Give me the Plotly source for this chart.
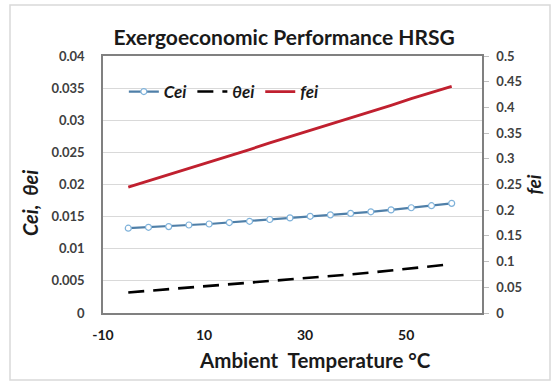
import plotly.graph_objects as go

# Data
ambient_temp = [-5, -1, 3, 7, 11, 15, 19, 23, 27, 31, 35, 39, 43, 47, 51, 55, 59]
cei = [0.0132, 0.01334, 0.01345, 0.0137, 0.01385, 0.01408, 0.01427, 0.01455, 0.0148,
       0.01505, 0.01528, 0.0155, 0.01575, 0.01605, 0.01638, 0.0167, 0.01707]
theta_ei = [0.0032, 0.00345, 0.0037, 0.0039, 0.0042, 0.00445, 0.0047, 0.00495, 0.0052,
            0.0055, 0.00575, 0.006, 0.0063, 0.0066, 0.0069, 0.0073, 0.0076]
fei = [0.245, 0.257, 0.269, 0.281, 0.293, 0.306, 0.318, 0.331, 0.343,
       0.355, 0.367, 0.380, 0.392, 0.404, 0.417, 0.429, 0.441]

left_ticks = [0, 0.005, 0.01, 0.015, 0.02, 0.025, 0.03, 0.035, 0.04]
left_tick_text = ["0", "0.005", "0.01", "0.015", "0.02", "0.025", "0.03", "0.035", "0.04"]
right_ticks = [0, 0.05, 0.1, 0.15, 0.2, 0.25, 0.3, 0.35, 0.4, 0.45, 0.5]
right_tick_text = ["0", "0.05", "0.1", "0.15", "0.2", "0.25", "0.3", "0.35", "0.4", "0.45", "0.5"]
x_ticks = [-10, 10, 30, 50]
x_tick_text = ["-10", "10", "30", "50"]

FONT = "Lato"
TICKFONT = dict(size=13, color="#404040", family=FONT, weight="bold")

fig = go.Figure()
fig.add_trace(go.Scatter(
    x=ambient_temp, y=cei, name="<b><i>Cei</i></b>", mode="lines+markers",
    line=dict(color="#4F7FA8", width=2.2),
    marker=dict(symbol="circle", size=6, color="white",
                line=dict(color="#7FB2DA", width=1.2)),
))
fig.add_trace(go.Scatter(
    x=ambient_temp, y=theta_ei, name="<b><i>θei</i></b>", mode="lines",
    line=dict(color="black", width=2.6, dash="16px,9px"),
))
fig.add_trace(go.Scatter(
    x=ambient_temp, y=fei, name="<b><i>fei</i></b>", mode="lines", yaxis="y2",
    line=dict(color="#C0202F", width=2.8),
))

fig.update_layout(
    width=557, height=383,
    margin=dict(l=103, r=75, t=56, b=70),
    paper_bgcolor="white", plot_bgcolor="white",
    font=dict(family=FONT, color="#333333"),
    title=dict(text="<b>Exergoeconomic Performance HRSG</b>",
               x=0.51, xanchor="center", y=1 - 38 / 383, yanchor="middle",
               font=dict(size=21, color="#1a1a1a", family=FONT)),
    xaxis=dict(range=[-10, 65], tickvals=x_ticks, ticktext=x_tick_text, showgrid=False,
               showline=True, linecolor="#808080", linewidth=1.5, mirror=True,
               ticks="", zeroline=False, ticklabelstandoff=8,
               tickfont=dict(TICKFONT, size=14, color="#1a1a1a")),
    yaxis=dict(range=[0, 0.04], tickvals=left_ticks, ticktext=left_tick_text,
               showgrid=True, gridcolor="#d9d9d9", gridwidth=1,
               showline=True, linecolor="#808080", linewidth=1.5,
               ticks="", zeroline=False, ticklabelstandoff=14,
               tickfont=TICKFONT),
    yaxis2=dict(range=[0, 0.5], tickvals=right_ticks, ticktext=right_tick_text,
                overlaying="y", side="right", showgrid=False,
                showline=True, linecolor="#808080", linewidth=1.5,
                ticks="outside", ticklen=5, tickcolor="#bfbfbf", zeroline=False,
                ticklabelstandoff=5,
                tickfont=TICKFONT,
                title=dict(text="<b><i>fei</i></b>",
                           font=dict(size=19, color="#1a1a1a", family=FONT),
                           standoff=0)),
    legend=dict(orientation="h", x=0.055, xanchor="left", y=0.86, yanchor="middle",
                bgcolor="rgba(0,0,0,0)", font=dict(size=17, color="#1a1a1a", family=FONT),
                itemwidth=30, tracegroupgap=0),
    showlegend=True,
)

# axis titles placed as in the reference (offset from the plot centre)
fig.add_annotation(text="<b>Ambient  Temperature °C</b>", xref="paper", yref="paper",
                   x=(315 - 103) / 379, y=-(360 - 313) / 257, xanchor="center", yanchor="middle",
                   showarrow=False, font=dict(size=20.5, color="#1a1a1a", family=FONT))
fig.add_annotation(text="<b><i>Cei,  θei</i></b>", xref="paper", yref="paper",
                   x=(30 - 103) / 379, y=(313 - 203) / 257, xanchor="center", yanchor="middle",
                   textangle=-90, showarrow=False,
                   font=dict(size=20, color="#1a1a1a", family=FONT))

# outer chart border
fig.add_shape(type="rect", xref="paper", yref="paper",
              x0=-93 / 379, x1=1 + 68 / 379, y0=-67 / 257, y1=1 + 51 / 257,
              line=dict(color="#d9d9d9", width=1.5), fillcolor="rgba(0,0,0,0)", layer="below")

fig.write_html("out.html")
